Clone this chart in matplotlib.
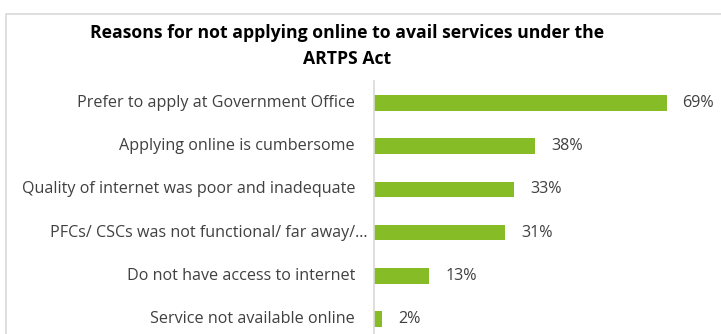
import matplotlib.pyplot as plt
from matplotlib.patches import Rectangle

categories = ['Prefer to apply at Government Office',
              'Applying online is cumbersome',
              'Quality of internet was poor and inadequate',
              'PFCs/ CSCs was not functional/ far away/\u2026',
              'Do not have access to internet',
              'Service not available online']
values = [69, 38, 33, 31, 13, 2]

green = '#86bc25'
text_grey = '#404040'

plt.rcParams['font.family'] = ['Open Sans', 'DejaVu Sans']

fig = plt.figure(figsize=(7.21, 3.34), dpi=100)

# light chart border, running off the right and bottom edges
fig.patches.append(Rectangle((6 / 721, -0.1), 1.0, (334 - 14) / 334 + 0.1,
                             transform=fig.transFigure, fill=False,
                             edgecolor='#d9d9d9', linewidth=1.2))

ax = fig.add_axes([374 / 721, (334 - 340.6) / 334, (721 - 374) / 721, (340.6 - 81.4) / 334])
y = list(range(len(categories)))
ax.barh(y, values, height=0.36, color=green)
ax.set_xlim(0, (721 - 374) / 4.24)
ax.set_ylim(len(categories) - 0.5, -0.5)

for s in ['top', 'right', 'bottom']:
    ax.spines[s].set_visible(False)
ax.spines['left'].set_color('#d9d9d9')
ax.spines['left'].set_linewidth(1.2)
ax.set_xticks([])
ax.set_yticks([])

# category labels, right aligned against the axis
for i, name in enumerate(categories):
    off = -6 if name.endswith('\u2026') else -19
    ax.annotate(name, xy=(0, i), xycoords=('axes fraction', 'data'),
                xytext=(off * 0.72, 0), textcoords='offset points',
                ha='right', va='center', fontsize=11.6, color=text_grey)

for i, v in enumerate(values):
    ax.annotate('%d%%' % v, xy=(v, i), xytext=(11.5, 0), textcoords='offset points',
                ha='left', va='center', fontsize=11.6, color=text_grey)

fig.text(347 / 721, 1 - 33 / 334, 'Reasons for not applying online to avail services under the',
         ha='center', va='center', fontsize=12.7, fontweight='bold', color='black')
fig.text(347 / 721, 1 - 59 / 334, 'ARTPS Act',
         ha='center', va='center', fontsize=12.7, fontweight='bold', color='black')

fig.savefig('out.png', dpi=100)
